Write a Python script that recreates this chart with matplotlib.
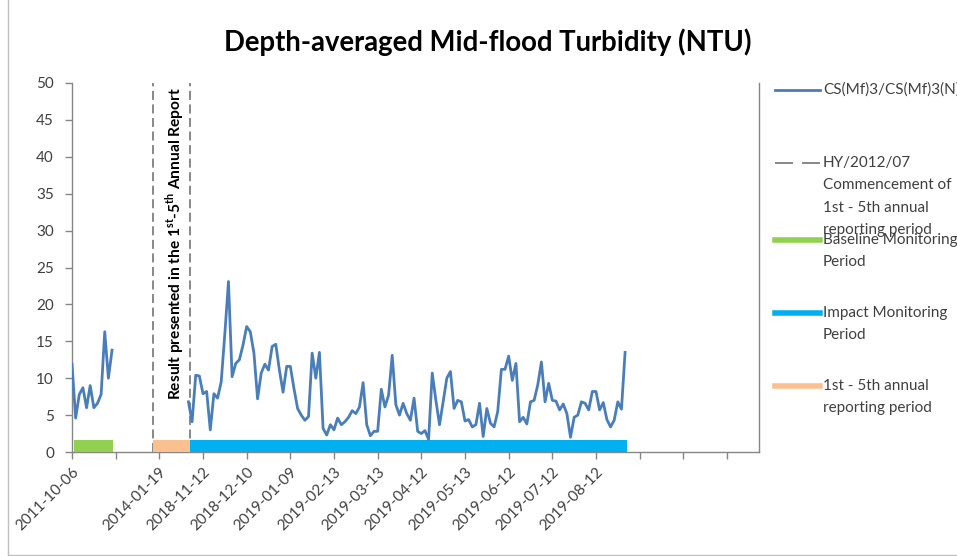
import matplotlib.pyplot as plt
from matplotlib.lines import Line2D

plt.rcParams['font.family'] = ['Lato', 'DejaVu Sans']
plt.rcParams['mathtext.fontset'] = 'custom'
plt.rcParams['mathtext.rm'] = 'Lato'
plt.rcParams['mathtext.bf'] = 'Lato:bold'

# --- data (category index on x, turbidity in NTU on y) ---
baseline_start = 0
baseline_vals = [11.9, 4.6, 7.8, 8.7, 6.0, 9.0, 6.0, 6.6, 7.8, 16.3, 10.0, 13.8]

impact_start = 32
impact_vals = [
    6.8, 4.1, 10.4, 10.3, 7.9, 8.2, 3.0, 7.9, 7.3, 9.5, 16.0, 23.1, 10.2, 12.0, 12.5, 14.5,
    17.0, 16.3, 13.4, 7.2, 10.7, 11.9, 11.1, 14.3, 14.6, 11.1, 8.1, 11.6, 11.6, 8.6, 5.9,
    5.0, 4.3, 4.8, 13.4, 10.0, 13.5, 3.2, 2.3, 3.7, 3.0, 4.6, 3.7, 4.1, 4.7, 5.6, 5.2,
    6.1, 9.4, 3.7, 2.2, 2.8, 2.8, 8.5, 6.1, 7.7, 13.1, 6.4, 5.0, 6.6, 5.2,
    4.3, 7.3, 2.8, 2.5, 2.9, 1.7, 10.7, 7.0, 3.7, 6.8, 10.0, 10.9, 5.9, 7.0, 6.8, 4.2,
    4.4, 3.4, 3.7, 6.6, 2.1, 5.9, 3.9, 3.4, 5.5, 11.2, 11.2, 13.0, 9.7, 12.0,
    4.1, 4.7, 3.8, 6.8, 7.0, 9.1, 12.2, 6.8, 9.3, 7.0, 6.9, 5.7, 6.5, 5.2, 2.0, 4.7,
    5.0, 6.8, 6.6, 5.7, 8.2, 8.2, 5.7, 6.7, 4.4, 3.4, 4.3, 6.8, 5.8, 13.5,
]

tick_step = 12
tick_labels = ["2011-10-06", "", "2014-01-19", "2018-11-12", "2018-12-10", "2019-01-09",
               "2019-02-13", "2019-03-13", "2019-04-12", "2019-05-13", "2019-06-12",
               "2019-07-12", "2019-08-12", "", "", ""]

commence_x = [22.3, 32.4]
baseline_period = (0.5, 11.3)
annual_period = (22.3, 32.4)
impact_period = (32.4, 152.5)
period_height = 1.6

line_col = "#4A7EBB"
dash_col = "#7F7F7F"
green = "#92D050"
cyan = "#00B0F0"
orange = "#FAC090"
spine_col = "#868686"

W, H = 957, 556
fig = plt.figure(figsize=(W / 100, H / 100), dpi=100)


def px(x, y):
    return x / W, 1 - y / H


ax = fig.add_axes([72 / W, 1 - 452 / H, 687 / W, 369 / H])

# vertical dashed markers
for xv in commence_x:
    ax.plot([xv, xv], [0, 50], color=dash_col, lw=1.3, ls=(0, (5, 2.5)), zorder=2)

# period bars
ax.fill_between(baseline_period, 0, period_height, color=green, lw=0, zorder=3)
ax.fill_between(annual_period, 0, period_height, color=orange, lw=0, zorder=3)
ax.fill_between(impact_period, 0, period_height, color=cyan, lw=0, zorder=3)

# turbidity series
bx = list(range(baseline_start, baseline_start + len(baseline_vals)))
ix = list(range(impact_start, impact_start + len(impact_vals)))
ax.plot(bx, baseline_vals, color=line_col, lw=2.0, zorder=4, solid_joinstyle="round")
ax.plot(ix, impact_vals, color=line_col, lw=2.0, zorder=4, solid_joinstyle="round")

ax.text(28.3, 28.3,
        r"Result presented in the 1$^{\mathbf{st}}$-5$^{\mathbf{th}}$ Annual Report",
        rotation=90, ha="center", va="center", fontsize=11.2, fontweight="bold",
        color="#000000", zorder=5)

ax.set_xlim(0, 188.8)
ax.set_ylim(0, 50)
ax.set_yticks(range(0, 51, 5))
ax.set_xticks([i * tick_step for i in range(len(tick_labels))])
ax.set_xticklabels(tick_labels, rotation=45, ha="right", rotation_mode="anchor")
ax.tick_params(axis="both", labelsize=11, color=spine_col, length=5, width=1,
               labelcolor="#404040")
ax.tick_params(axis="y", pad=8)
ax.tick_params(axis="x", pad=4)

for side in ["left", "bottom", "right"]:
    ax.spines[side].set_color(spine_col)
    ax.spines[side].set_linewidth(1)
ax.spines["top"].set_visible(False)

fig.text(*px(488, 42), "Depth-averaged Mid-flood Turbidity (NTU)", ha="center",
         va="center", fontsize=19.8, fontweight="bold", color="#000000")

# legend drawn by hand (Excel-style, text runs off the right edge)
legend_labels = [
    "CS(Mf)3/CS(Mf)3(N)",
    "HY/2012/07\nCommencement of\n1st - 5th annual\nreporting period",
    "Baseline Monitoring\nPeriod",
    "Impact Monitoring\nPeriod",
    "1st - 5th annual\nreporting period",
]
legend_y = [90, 163, 240, 313, 386]
legend_styles = [
    dict(color=line_col, lw=2.0),
    dict(color=dash_col, lw=1.3, ls=(0, (10, 5))),
    dict(color=green, lw=4),
    dict(color=cyan, lw=4),
    dict(color=orange, lw=4),
]
for label, ly, st in zip(legend_labels, legend_y, legend_styles):
    x0, y0 = px(775, ly)
    x1, _ = px(820, ly)
    fig.add_artist(Line2D([x0, x1], [y0, y0], transform=fig.transFigure, **st))
    for k, part in enumerate(label.split("\n")):
        fig.text(*px(823, ly + 22.3 * k), part, ha="left", va="center",
                 fontsize=11, color="#404040")

# chart area border (left and bottom edges visible)
fig.add_artist(Line2D([8 / W, 8 / W], [0, 1], transform=fig.transFigure,
                      color="#BFBFBF", lw=1))
fig.add_artist(Line2D([8 / W, 1], [1 / H, 1 / H], transform=fig.transFigure,
                      color="#BFBFBF", lw=1))

fig.savefig("out.png", dpi=100)
